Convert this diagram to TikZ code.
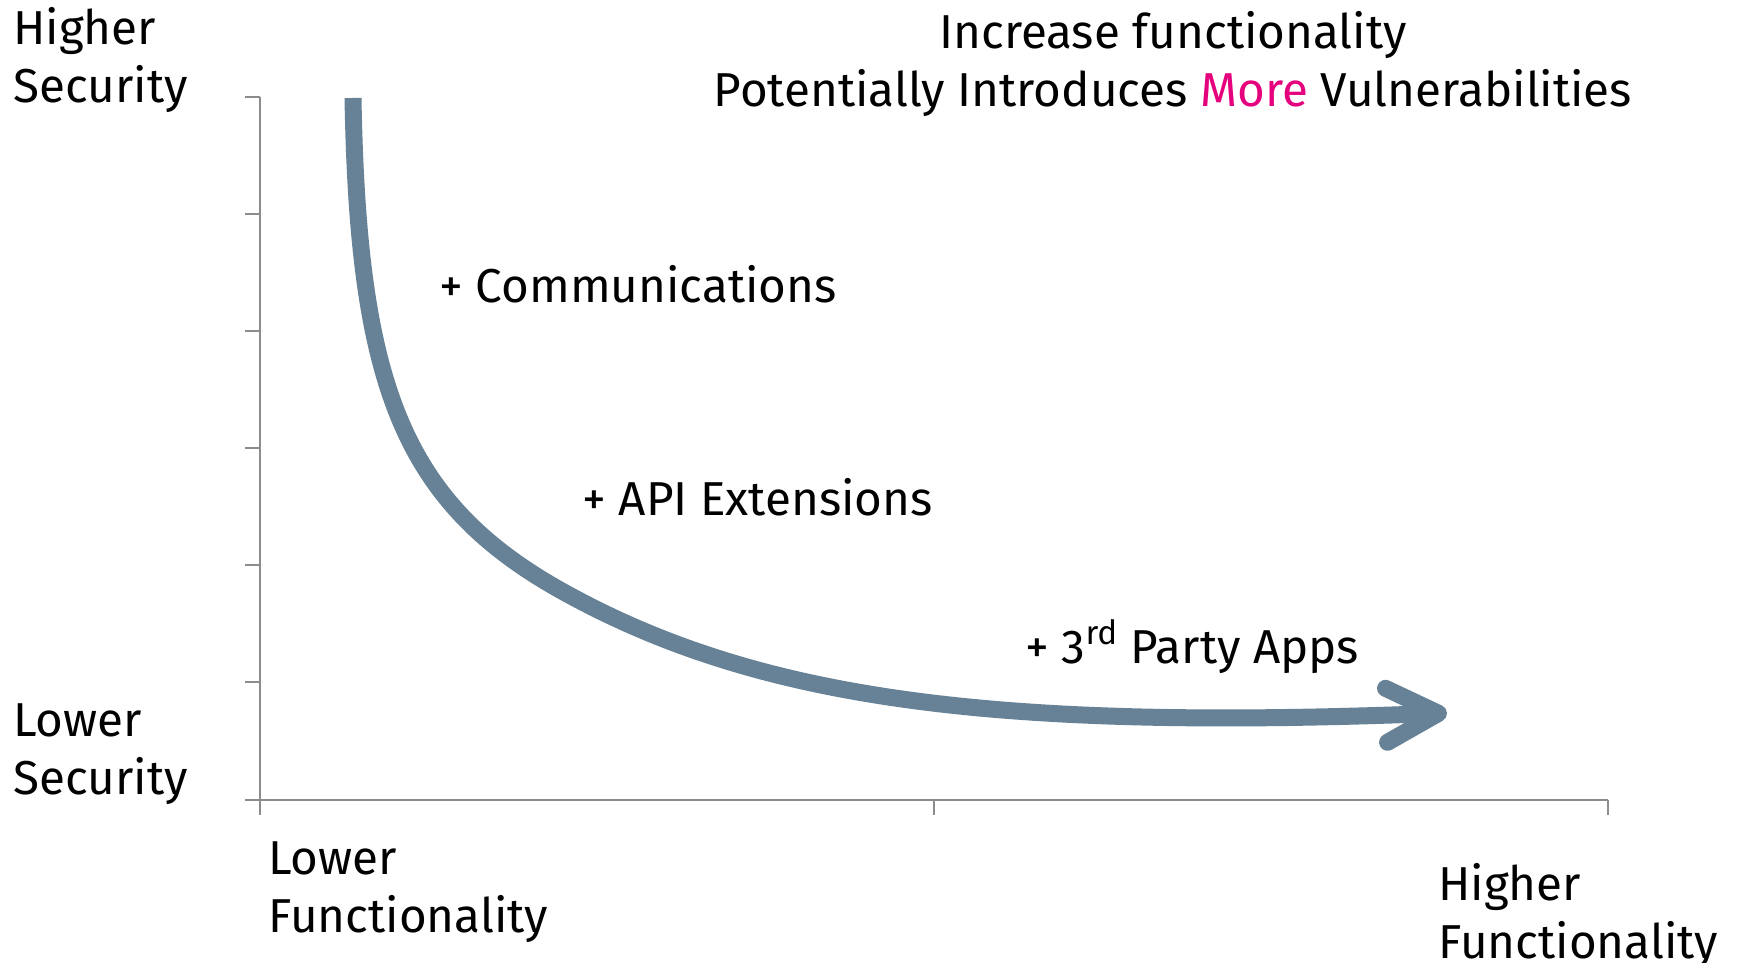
\documentclass[tikz,border=0pt]{standalone}
\usepackage{fontspec}
\setmainfont{Fira Sans}
\usepackage{tikz}
\usetikzlibrary{arrows.meta}
\definecolor{slate}{HTML}{678296}
\definecolor{accent}{HTML}{E5007D}
\definecolor{axisc}{HTML}{8C8C8C}
\tikzset{
  lbl/.style={inner sep=0pt, align=left, text=black,
              font=\fontsize{23.8}{29}\selectfont},
  axis/.style={draw=axisc, line width=0.7pt},
  trend/.style={draw=slate, line width=8.5pt,
                -{Straight Barb[length=26pt, width=27pt, round]}},
}

\begin{document}
\begin{tikzpicture}[x=0.5pt, y=-0.5pt]
  \useasboundingbox (0,0) rectangle (1737,963);
  % axes with their ticks
  \draw[axis] (260,97) -- (260,815);
  \draw[axis] (245,800) -- (1608,800);
  \draw[axis] (245,97) -- (260,97)  (245,214) -- (260,214)
              (245,331) -- (260,331)  (245,448) -- (260,448)
              (245,565) -- (260,565)  (245,682) -- (260,682)
              (934,800) -- (934,815)  (1608,800) -- (1608,815);
  % axis labels
  \node[lbl, anchor=base west] (hisec) at (13,103) {Higher\\Security};
  \node[lbl, anchor=base west] (losec) at (13,794) {Lower\\Security};
  \node[lbl, anchor=base west] (lofun) at (268,932) {Lower\\Functionality};
  \node[lbl, anchor=base west] (hifun) at (1438,958) {Higher\\Functionality};
  \node[lbl, align=center, anchor=base] (title) at (1173,107)
    {Increase functionality\\
     Potentially Introduces \textcolor{accent}{More} Vulnerabilities};
  % steps along the trade-off
  \node[lbl, anchor=base west] (comms) at (439,302) {+ Communications};
  \node[lbl, anchor=base west] (api) at (582,515) {+ API Extensions};
  \node[lbl, anchor=base west] (apps) at (1025,663) {+ 3\textsuperscript{rd} Party Apps};
  % the curve
  \draw[trend] (353,98) .. controls (358,380) and (400,500) .. (560,590)
               .. controls (760,702) and (1000,730) .. (1447,713);
\end{tikzpicture}
\end{document}
